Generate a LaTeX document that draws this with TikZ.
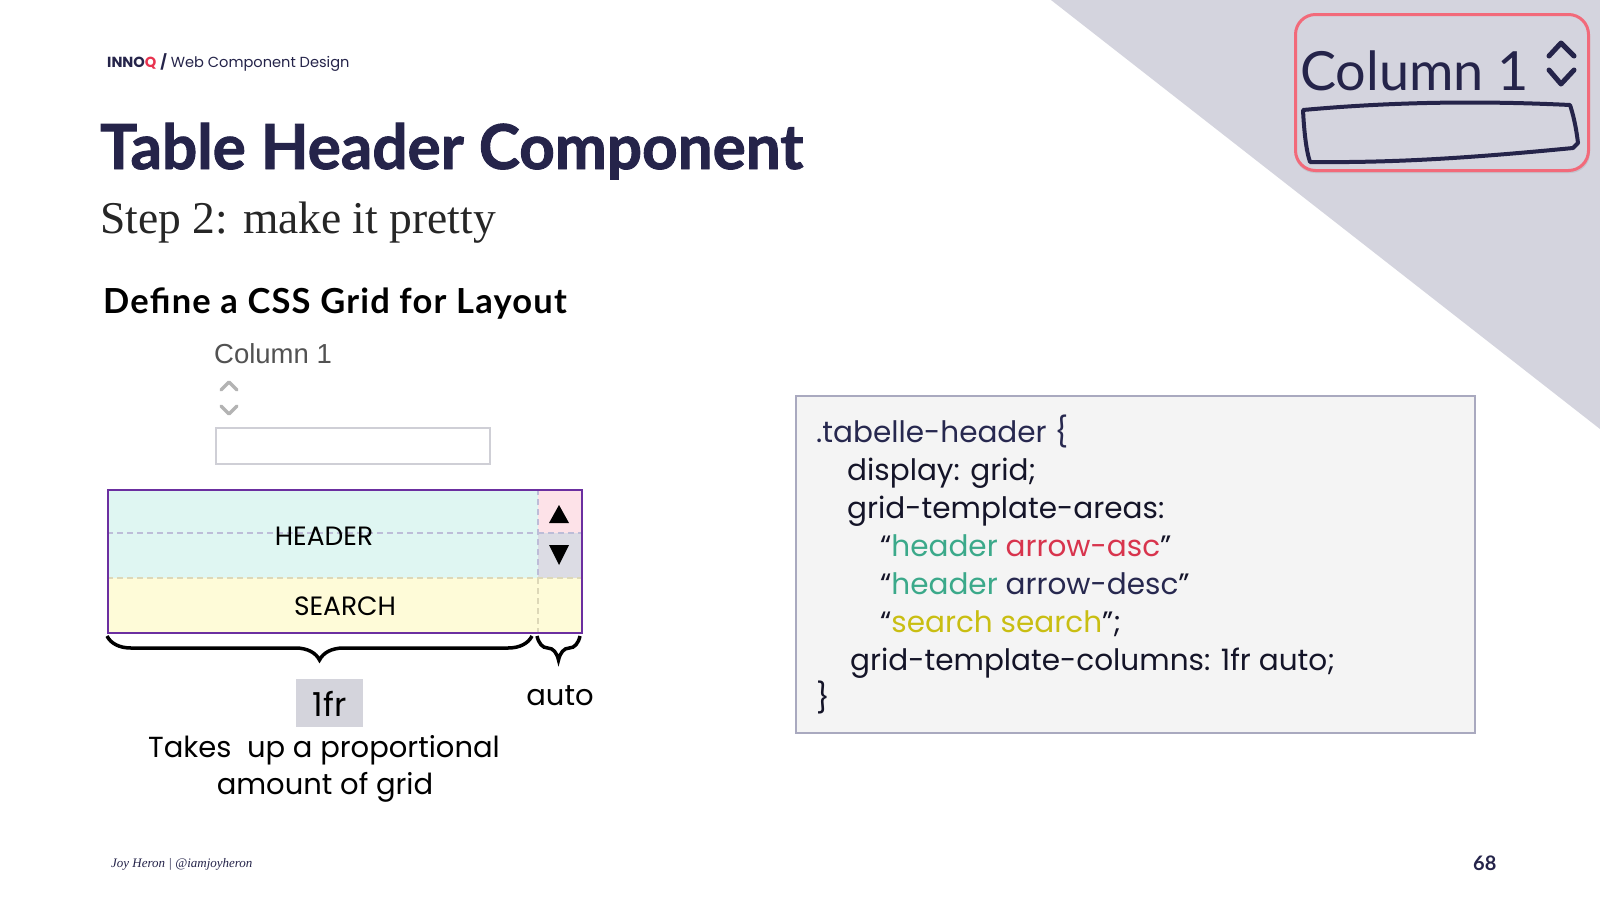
\documentclass[tikz,border=0pt]{standalone}
\usepackage{fontspec}
\setsansfont{Lato}
\newfontfamily\popfont{Poppins}
\newfontfamily\titlefont{Lato}[BoldFeatures={FakeBold=1.5}]
\newfontfamily\headfont{Lato}[BoldFeatures={LetterSpace=3.5}]
\newfontfamily\arialfont{Liberation Sans}
\newfontfamily\timesfont{Liberation Serif}
\usetikzlibrary{decorations.pathreplacing}
\definecolor{navy}{HTML}{25244A}
\definecolor{innoqred}{HTML}{E8334F}
\definecolor{trigray}{HTML}{D4D4DE}
\definecolor{sketchred}{HTML}{F26A7A}
\definecolor{codefill}{HTML}{F4F4F4}
\definecolor{codeborder}{HTML}{A9A9BF}
\definecolor{cteal}{HTML}{3BA98A}
\definecolor{cred}{HTML}{D8344D}
\definecolor{cnavy}{HTML}{27284F}
\definecolor{colive}{HTML}{C9BE12}
\definecolor{hdrfill}{HTML}{DFF6F2}
\definecolor{ascfill}{HTML}{FDE2E8}
\definecolor{descfill}{HTML}{DCDCE4}
\definecolor{srchfill}{HTML}{FEFBD8}
\definecolor{gridpurple}{HTML}{6B2FA0}
\definecolor{dashcol}{HTML}{BDBDD8}
\definecolor{dashyel}{HTML}{DDD8B8}
\definecolor{uigray}{HTML}{B3B3B3}
\definecolor{inputgray}{HTML}{CFCFD6}
\definecolor{frgray}{HTML}{D4D4DC}
\definecolor{codetext}{HTML}{141428}
\tikzset{
  txt/.style={inner sep=0pt, anchor=base west},
  ctxt/.style={inner sep=0pt, anchor=base},
  codeline/.style={txt, font=\popfont\fontsize{29.5}{34}\selectfont, text=codetext},
  body/.style={ctxt, font=\popfont\fontsize{29}{34}\selectfont, text=black},
  area/.style={inner sep=0pt, anchor=north west},
  gdash/.style={dashcol, dashed, dash pattern=on 6pt off 4pt, line width=1.6pt},
  ydash/.style={dashyel, dash pattern=on 6pt off 4pt, line width=1.6pt},
  bracestyle/.style={decorate, line width=3.5pt, black},
  hand/.style={navy, line width=4pt, line cap=round, line join=round},
  chev/.style={uigray, line width=3.2pt, line cap=round, line join=round},
  arealabel/.style={ctxt, font=\popfont\fontsize{26.5}{30}\selectfont},
}
\begin{document}
\begin{tikzpicture}[x=1pt, y=-1pt]
\useasboundingbox (0,0) rectangle (1600,900);
\fill[white] (0,0) rectangle (1600,900);
% gray triangle
\fill[trigray] (1051,0) -- (1600,0) -- (1600,429) -- cycle;

% sketch box
\fill[black, opacity=0.08, rounded corners=20pt] (1295,16) rectangle (1590,173);
\node[area, draw=sketchred, line width=3pt, rounded corners=20pt, fill=trigray,
  minimum width=293pt, minimum height=156pt] (sketch) at (1294,13) {};
\node[txt, font=\sffamily\fontsize{54}{60}\selectfont, text=navy] (sketchtitle) at (1300,90) {Column 1};
\draw[hand, line width=5pt] (1549,56) -- (1561,43) -- (1574,56);
\draw[hand, line width=5pt] (1549,70) -- (1561,84) -- (1574,70);
\draw[hand] (1303,110) .. controls (1380,103) and (1467,100) .. (1570,105)
  .. controls (1575,120) and (1577,135) .. (1578,143)
  -- (1573,148) .. controls (1480,157) and (1400,163) .. (1310,162)
  .. controls (1306,150) and (1304,130) .. (1303,110) -- cycle;

% header line
\node[txt, font=\popfont\fontsize{14.6}{16}\selectfont, text=navy] (brand) at (107,67)
  {{\bfseries INNO\textcolor{innoqred}{Q}} {\bfseries /} Web Component Design};

% titles
\node[txt, font=\titlefont\bfseries\fontsize{62}{70}\selectfont, text=navy] (title) at (100,169) {Table Header Component};
\node[txt, font=\timesfont\fontsize{45.5}{52}\selectfont, text=black!85] (subtitle) at (100,233) {Step 2: make it pretty};
\node[txt, font=\headfont\bfseries\fontsize{34.5}{38}\selectfont, text=black] (heading) at (103,313) {Define a CSS Grid for Layout};

% browser rendering
\node[txt, font=\arialfont\fontsize{27.5}{32}\selectfont, text=black!68] (col1) at (214,363) {Column 1};
\draw[chev] (221,390) -- (229,382) -- (237,390);
\draw[chev] (221,406) -- (229,414) -- (237,406);
\node[area, draw=inputgray, line width=1.5pt, fill=white, minimum width=274pt, minimum height=36pt] (input) at (215,427) {};

% grid diagram
\node[area, fill=hdrfill, minimum width=431pt, minimum height=89pt] (hdr) at (107,489) {};
\node[area, fill=ascfill, minimum width=44pt, minimum height=44pt] (asc) at (538,489) {};
\node[area, fill=descfill, minimum width=44pt, minimum height=45pt] (desc) at (538,533) {};
\node[area, fill=srchfill, minimum width=474pt, minimum height=54pt] (srch) at (107,578) {};
\draw[gdash] (107,533) -- (538,533);
\draw[gdash] (538,533) -- (581,533);
\draw[gdash] (538,489) -- (538,578);
\draw[ydash] (538,578) -- (538,632);
\draw[ydash] (107,578) -- (581,578);
\node[area, draw=gridpurple, line width=2.2pt, minimum width=474pt, minimum height=143pt] (gridbox) at (107,489) {};
\node[arealabel] (hdrlabel) at (324,545) {HEADER};
\node[arealabel] (srchlabel) at (345,615) {SEARCH};
\fill[black] (549,523) -- (569,523) -- (559,505) -- cycle;
\fill[black] (549,545) -- (569,545) -- (559,565) -- cycle;

% braces
\coordinate (b1a) at (107,636);
\coordinate (b1b) at (532,636);
\coordinate (b2a) at (537,636);
\coordinate (b2b) at (580,636);
\draw[bracestyle, decoration={brace, mirror, amplitude=24pt}] (b1a) -- (b1b);
\draw[bracestyle, decoration={brace, mirror, amplitude=24pt}] (b2a) -- (b2b);

\node[inner sep=0pt, fill=frgray, minimum width=67pt, minimum height=48pt] (frbox) at (329.5,703) {};
\node[ctxt, font=\popfont\fontsize{33}{40}\selectfont] (frlabel) at (329.5,716) {1fr};
\node[body] (autolabel) at (560,705) {auto};
\node[body] (takes1) at (324,757) {Takes\ \ up a proportional};
\node[body] (takes2) at (325,794) {amount of grid};

% code box
\node[area, draw=codeborder, line width=2pt, fill=codefill, minimum width=679pt, minimum height=337pt] (codebox) at (795,395) {};
\node[codeline, text=cnavy] (l1) at (816,442) {.tabelle-header \{};
\node[codeline] (l2) at (847,480) {display: grid;};
\node[codeline] (l3) at (847,518) {grid-template-areas:};
\node[codeline] (l4) at (880,556) {“\textcolor{cteal}{header} \textcolor{cred}{arrow-asc}”};
\node[codeline] (l5) at (880,594) {“\textcolor{cteal}{header} \textcolor{cnavy}{arrow-desc}”};
\node[codeline] (l6) at (880,632) {“\textcolor{colive}{search search}”;};
\node[codeline] (l7) at (850,670) {grid-template-columns: 1fr auto;};
\node[codeline] (l8) at (816,708) {\}};

% footer
\node[txt, font=\timesfont\itshape\fontsize{13}{15}\selectfont, text=navy] (footer) at (111,867) {Joy Heron | @iamjoyheron};
\node[txt, font=\sffamily\bfseries\fontsize{20}{24}\selectfont, text=navy] (pagenum) at (1473,870) {68};
\end{tikzpicture}
\end{document}
